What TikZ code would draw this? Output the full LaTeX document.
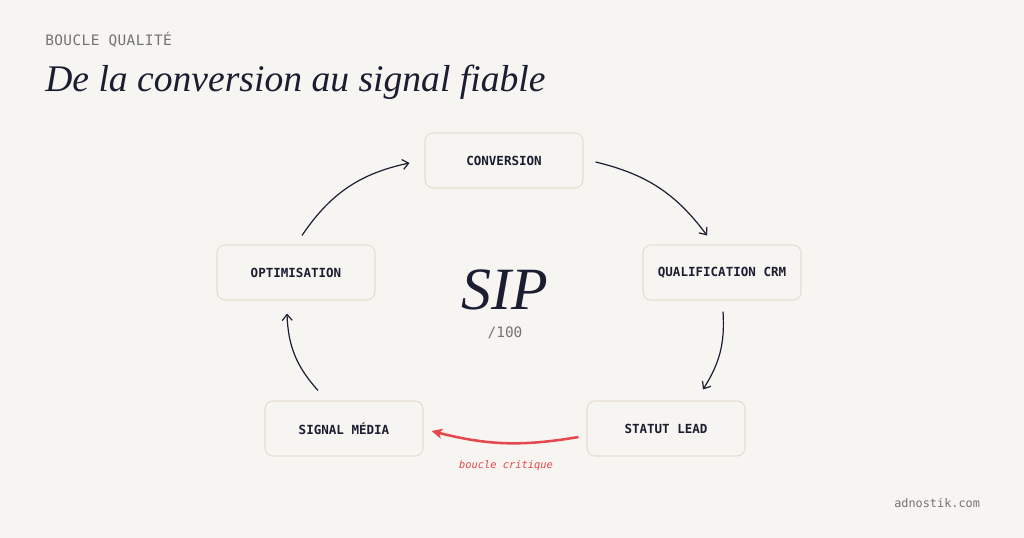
\documentclass[tikz,border=0pt]{standalone}
\usepackage{fontspec}
\setmonofont{DejaVu Sans Mono}
\newfontfamily\headfont{Liberation Serif}
\newfontfamily\kickerfont[LetterSpace=3]{DejaVu Sans Mono}
\usetikzlibrary{arrows.meta,calc}
\definecolor{paper}{HTML}{F7F5F1}
\definecolor{boxline}{HTML}{E5DDD1}
\definecolor{ink}{HTML}{1B1D31}
\definecolor{muted}{HTML}{737373}
\definecolor{alert}{HTML}{E5484D}

\begin{document}
\begin{tikzpicture}[x=0.75pt,y=0.75pt,
    txt/.style={inner sep=0pt},
    box/.style={draw=boxline,line width=0.8pt,fill=paper,rounded corners=6pt,
        minimum width=118.5pt,minimum height=41.25pt,text=ink,
        font=\ttfamily\bfseries\fontsize{9.4}{11}\selectfont},
    flow/.style={ink,line width=0.9pt,-{Straight Barb[length=4.5pt,width=7.5pt]}},
    hot/.style={draw=alert,line width=1.9pt,-{Stealth[length=8pt,width=7.5pt,inset=2pt]}}]
    \fill[paper] (0,0) rectangle (1024,-538);
    \useasboundingbox (0,0) rectangle (1024,-538);

    \node[txt,anchor=base west,text=muted,font=\kickerfont\fontsize{10.8}{12}\selectfont] (kicker) at (45,-46) {BOUCLE QUALITÉ};
    \node[txt,anchor=base west,text=ink,font=\headfont\itshape\fontsize{28.2}{30}\selectfont] (title) at (45,-92) {De la conversion au signal fiable};

    \node[txt,anchor=base,text=ink,font=\headfont\itshape\fontsize{45}{46}\selectfont] (sip) at (505,-310) {SIP};
    \node[txt,anchor=base,text=muted,font=\ttfamily\fontsize{10.8}{12}\selectfont] (score) at (505,-337) {/100};

    \node[box] (conv) at (504,-160.5) {CONVERSION};
    \node[box] (qual) at (722,-272.5) {QUALIFICATION CRM};
    \node[box] (lead) at (666,-428.5) {STATUT LEAD};
    \node[box] (media) at (344,-428.5) {SIGNAL MÉDIA};
    \node[box] (opt) at (296,-272.5) {OPTIMISATION};

    \path[flow] ($(opt.north)+(6,9)$) edge[bend left=22] ($(conv.west)+(-15,-2.5)$)
    ($(conv.east)+(12,-1.5)$) edge[bend left=20] ($(qual.north)+(-15,9)$)
    ($(qual.south)+(1,-11)$) edge[bend left=18] ($(lead.north)+(37,11)$)
    ($(media.north)+(-26,10)$) edge[bend left=20] ($(opt.south)+(-9,-13)$);

    \draw[hot] ($(lead.west)+(-8,-8.5)$) to[bend left=12] ($(media.east)+(8,-2.5)$);
    \node[txt,anchor=base,text=alert,font=\ttfamily\itshape\fontsize{7.8}{9}\selectfont] (crit) at (506,-468) {boucle critique};

    \node[txt,anchor=base west,text=muted,font=\ttfamily\fontsize{8.9}{10}\selectfont] (site) at (894,-507) {adnostik.com};
\end{tikzpicture}
\end{document}
